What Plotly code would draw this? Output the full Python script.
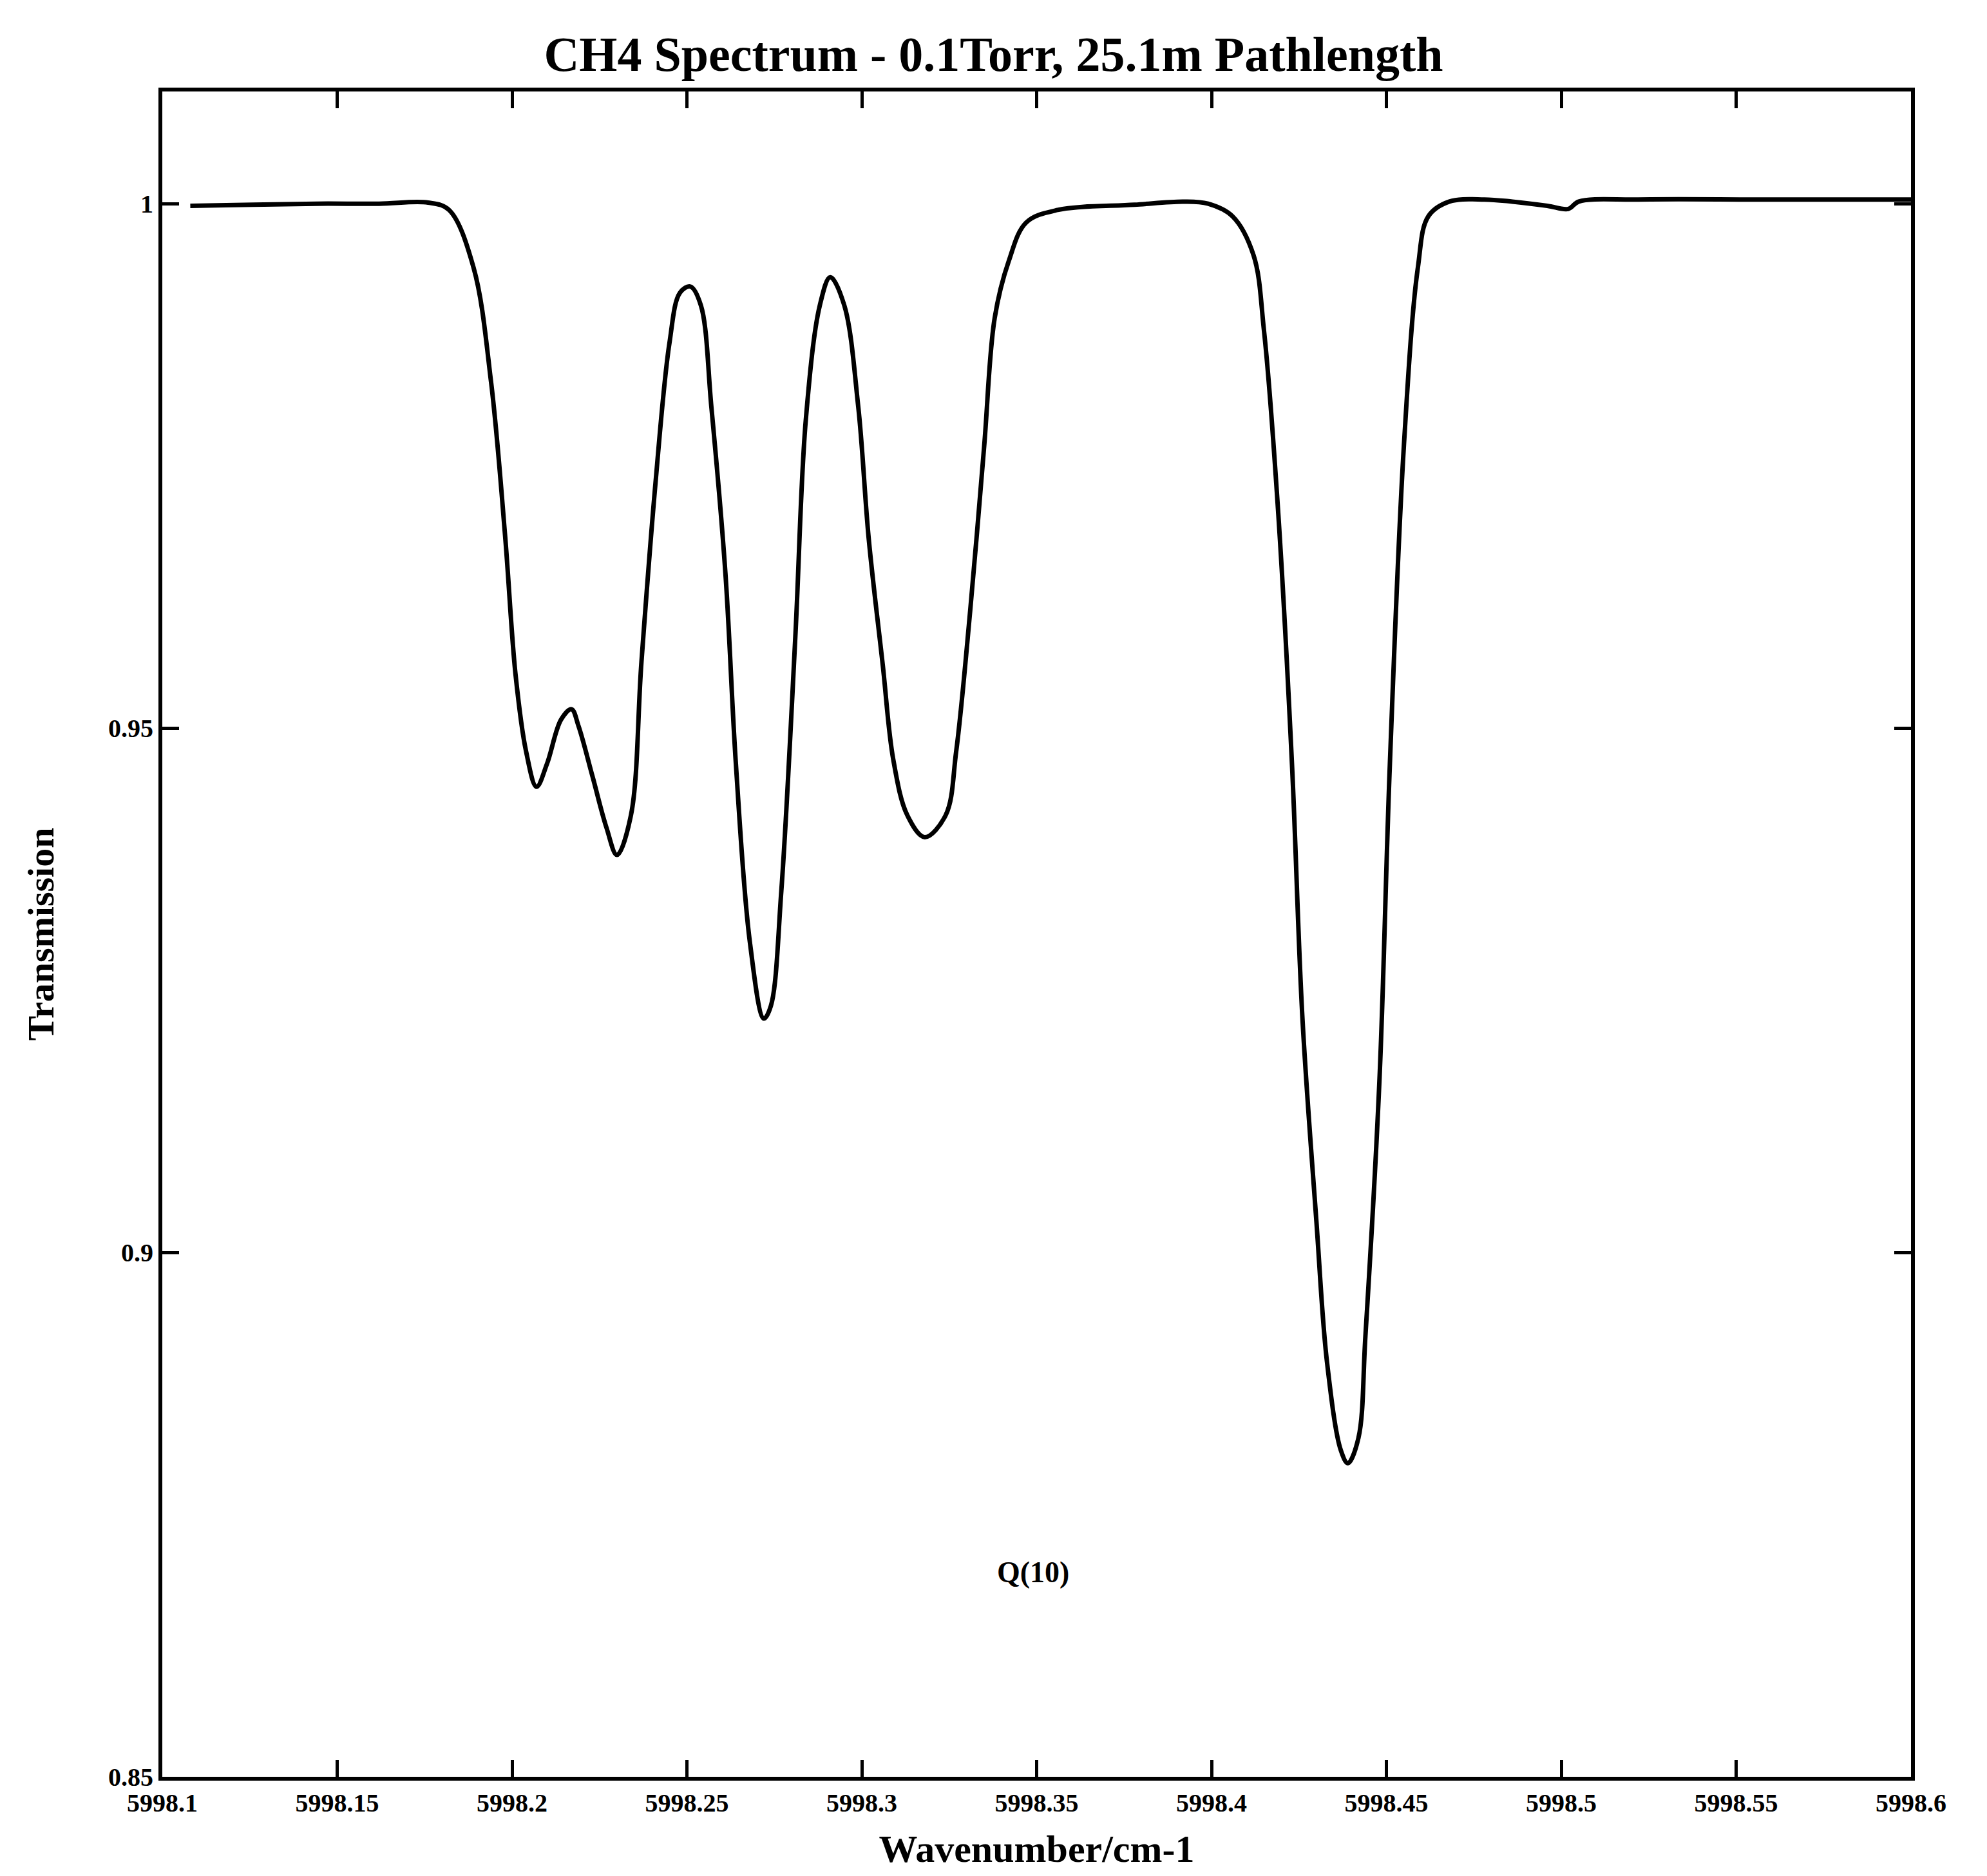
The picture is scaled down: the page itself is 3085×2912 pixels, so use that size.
import plotly.graph_objects as go

wavenumber = [5998.108, 5998.126, 5998.144, 5998.162, 5998.176, 5998.182, 5998.189, 5998.194,
              5998.198, 5998.201, 5998.204, 5998.207, 5998.210, 5998.214, 5998.217, 5998.219,
              5998.223, 5998.227, 5998.230, 5998.234, 5998.237, 5998.241, 5998.245, 5998.248,
              5998.251, 5998.254, 5998.257, 5998.261, 5998.264, 5998.268, 5998.272, 5998.274,
              5998.277, 5998.281, 5998.284, 5998.288, 5998.291, 5998.295, 5998.299, 5998.302,
              5998.306, 5998.309, 5998.313, 5998.318, 5998.324, 5998.327, 5998.331, 5998.335,
              5998.338, 5998.342, 5998.347, 5998.356, 5998.378, 5998.392, 5998.399, 5998.406,
              5998.412, 5998.415, 5998.419, 5998.423, 5998.426, 5998.430, 5998.433, 5998.437,
              5998.439, 5998.442, 5998.444, 5998.448, 5998.451, 5998.455, 5998.459, 5998.462,
              5998.468, 5998.478, 5998.486, 5998.496, 5998.502, 5998.505, 5998.522, 5998.558,
              5998.600]
transmission = [0.9998, 0.9999, 1.0000, 1.0000, 1.0001, 0.9994, 0.9939, 0.9830,
                0.9684, 0.9551, 0.9478, 0.9444, 0.9466, 0.9508, 0.9518, 0.9502,
                0.9454, 0.9405, 0.9379, 0.9417, 0.9563, 0.9733, 0.9867, 0.9915,
                0.9921, 0.9903, 0.9806, 0.9648, 0.9466, 0.9296, 0.9223, 0.9235,
                0.9345, 0.9587, 0.9794, 0.9903, 0.9930, 0.9903, 0.9806, 0.9680,
                0.9560, 0.9470, 0.9417, 0.9396, 0.9417, 0.9478, 0.9612, 0.9769,
                0.9891, 0.9945, 0.9982, 0.9994, 0.9999, 1.0002, 1.0000, 0.9988,
                0.9951, 0.9879, 0.9709, 0.9466, 0.9223, 0.9029, 0.8896, 0.8811,
                0.8799, 0.8823, 0.8920, 0.9163, 0.9466, 0.9769, 0.9939, 0.9988,
                1.0002, 1.0004, 1.0002, 0.9998, 0.9995, 1.0002, 1.0004, 1.0004,
                1.0004]

x_tick_vals = [5998.1, 5998.15, 5998.2, 5998.25, 5998.3, 5998.35, 5998.4, 5998.45, 5998.5, 5998.55, 5998.6]
x_tick_text = ["5998.1", "5998.15", "5998.2", "5998.25", "5998.3", "5998.35", "5998.4", "5998.45", "5998.5", "5998.55", "5998.6"]
y_tick_vals = [0.85, 0.9, 0.95, 1.0]
y_tick_text = ["0.85", "0.9", "0.95", "1"]

title_text = "CH4 Spectrum - 0.1Torr, 25.1m Pathlength"
x_title = "Wavenumber/cm-1"
y_title = "Transmission"
label_text = "Q(10)"
label_x = 5998.349
label_y = 0.8695

FONT = "Liberation Serif"

fig = go.Figure()
fig.add_trace(go.Scatter(
    x=wavenumber, y=transmission, mode="lines",
    line=dict(color="black", width=7, shape="spline", smoothing=1.0),
    showlegend=False,
))

fig.add_annotation(x=label_x, y=label_y, text="<b>" + label_text + "</b>", showarrow=False,
                   font=dict(family=FONT, size=46, color="black"))

axis_common = dict(
    showline=True, linecolor="black", linewidth=6, mirror="ticks",
    ticks="inside", ticklen=26, tickwidth=5, tickcolor="black",
    showgrid=False, zeroline=False,
    tickfont=dict(family=FONT, size=40, color="black", weight="bold"),
)

fig.update_layout(
    width=3085, height=2912,
    paper_bgcolor="white", plot_bgcolor="white",
    margin=dict(l=252, r=118, t=142, b=154),
    title=dict(text="<b>" + title_text + "</b>", x=0.5, xanchor="center",
               y=1 - 83 / 2912, yanchor="middle",
               font=dict(family=FONT, size=76, color="black")),
    xaxis=dict(range=[5998.1, 5998.6], tickvals=x_tick_vals, ticktext=x_tick_text,
               title=dict(text="<b>" + x_title + "</b>",
                          font=dict(family=FONT, size=60, color="black"), standoff=30),
               **axis_common),
    yaxis=dict(range=[0.85, 1.0107], tickvals=y_tick_vals, ticktext=y_tick_text,
               title=dict(text="<b>" + y_title + "</b>",
                          font=dict(family=FONT, size=58, color="black"), standoff=68),
               **axis_common),
)

fig.write_html("out.html")
